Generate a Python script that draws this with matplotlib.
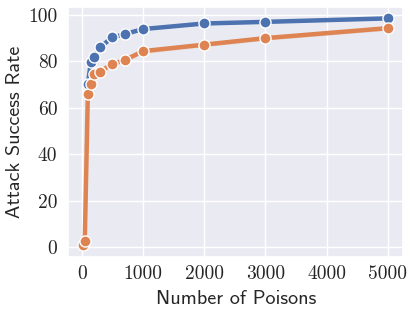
import matplotlib
matplotlib.use("Agg")
import matplotlib.pyplot as plt
import seaborn as sns

sns.set_theme(style="darkgrid")
plt.rcParams['axes.formatter.use_mathtext'] = True

blue_x = [100, 150, 200, 300, 500, 700, 1000, 2000, 3000, 5000]
blue_y = [70.2, 79.5, 81.7, 86.0, 90.2, 91.6, 93.8, 96.2, 96.9, 98.4]
blue_err = [0.6, 0.6, 0.6, 0.6, 0.5, 0.5, 0.5, 0.5, 0.5, 0.5]

orange_x = [25, 50, 100, 150, 200, 300, 500, 700, 1000, 2000, 3000, 5000]
orange_y = [0.7, 2.5, 65.7, 70.2, 74.5, 75.5, 78.8, 80.4, 84.3, 87.1, 89.9, 94.2]
orange_err = [0.4, 0.6, 1.0, 1.0, 1.0, 1.0, 1.0, 1.0, 1.0, 0.9, 0.9, 0.9]

xticks = [0, 1000, 2000, 3000, 4000, 5000]
yticks = [0, 20, 40, 60, 80, 100]

c_blue = "#4C72B0"
c_orange = "#DD8452"

fig = plt.figure(figsize=(4.15, 3.15), dpi=100)
ax = fig.add_axes([68/415, 1 - 257/315, (403-68)/415, (257-7)/315])

for xs, ys, es, c in [(blue_x, blue_y, blue_err, c_blue), (orange_x, orange_y, orange_err, c_orange)]:
    lo = [y - e for y, e in zip(ys, es)]
    hi = [y + e for y, e in zip(ys, es)]
    ax.fill_between(xs, lo, hi, color=c, alpha=0.25, lw=0)
    ax.plot(xs, ys, color=c, lw=3.2, marker='o', markersize=8,
            markeredgecolor='white', markeredgewidth=1.0)

ax.set_xticks(xticks)
ax.set_yticks(yticks)
ax.set_xticklabels([str(t) for t in xticks], fontfamily='cmr10', fontsize=14)
ax.set_yticklabels([str(t) for t in yticks], fontfamily='cmr10', fontsize=14)
ax.set_xlabel("Number of Poisons", fontfamily='cmss10', fontsize=14.5)
ax.set_ylabel("Attack Success Rate", fontfamily='cmss10', fontsize=14.5)
ax.xaxis.set_label_coords(0.5 + (236 - 235.5) / 335, (257 - 289.5) / 250)
ax.yaxis.set_label_coords((24 - 68) / 335, 0.5)
ax.set_xlim(-224, 5249)
ax.set_ylim(-4.3, 103.3)
ax.tick_params(axis='x', length=0, pad=5.8)
ax.tick_params(axis='y', length=0, pad=7.6)

fig.savefig("out.png", dpi=100)
